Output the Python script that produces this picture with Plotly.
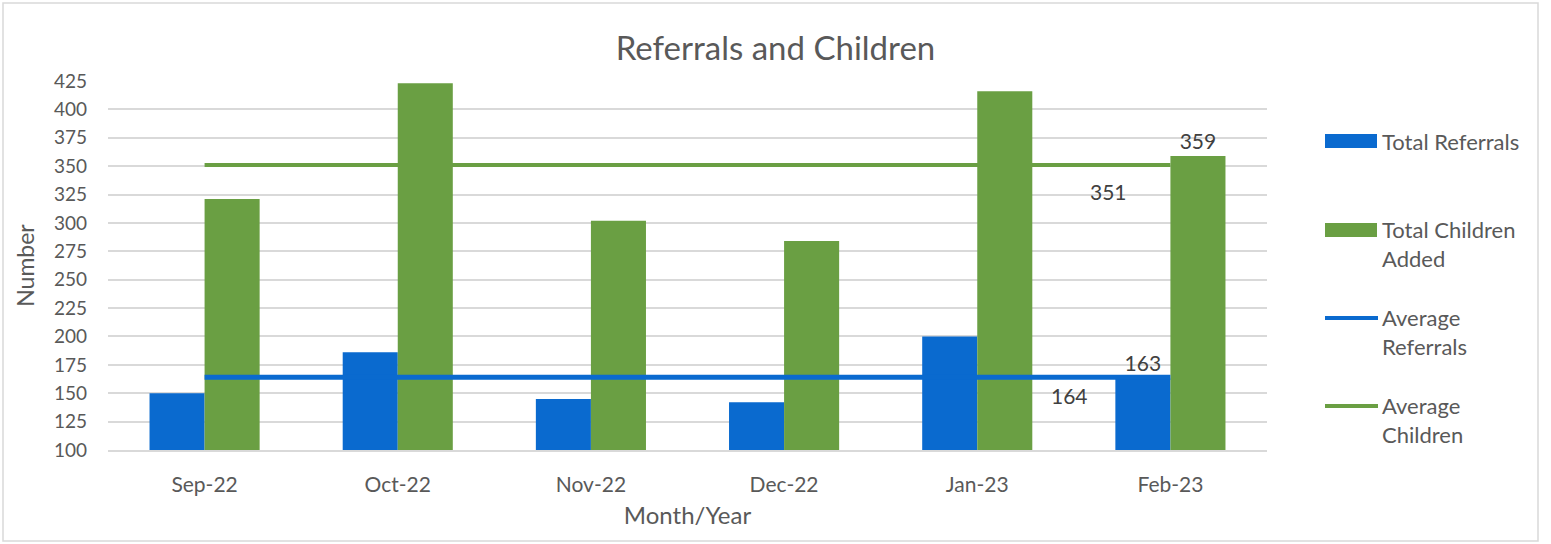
import plotly.graph_objects as go

# ---------------------------------------------------------------
# Data
# ---------------------------------------------------------------
months = ["Sep-22", "Oct-22", "Nov-22", "Dec-22", "Jan-23", "Feb-23"]
referrals = [150, 186, 145, 142, 200, 163]
children = [321, 423, 302, 284, 416, 359]
avg_referrals = [164, 164, 164, 164, 164, 164]
avg_children = [351, 351, 351, 351, 351, 351]

BLUE = "#0A6ACF"
GREEN = "#6A9F43"
TXT = "#595959"
LBL = "#404040"
GRID = "#D9D9D9"
FONT = "Lato"

W, H = 1551, 544
L, R, T, B = 108, 284, 81, 94


def px(x):
    # pixel x -> paper x
    return (x - L) / (W - L - R)


def py(y):
    # pixel y -> paper y
    return (H - B - y) / (H - T - B)


# only the last bars carry a data label
ref_text = [""] * (len(months) - 1) + [str(referrals[-1])]
chi_text = [""] * (len(months) - 1) + [str(children[-1])]

fig = go.Figure()
fig.add_trace(go.Bar(x=months, y=referrals, name="Total Referrals",
                     marker=dict(color=BLUE, line_width=0),
                     text=ref_text, textposition="outside", cliponaxis=False,
                     textfont=dict(color=LBL, size=21)))
fig.add_trace(go.Bar(x=months, y=children, name="Total Children Added",
                     marker=dict(color=GREEN, line_width=0),
                     text=chi_text, textposition="outside", cliponaxis=False,
                     textfont=dict(color=LBL, size=21)))
fig.add_trace(go.Scatter(x=months, y=avg_referrals, name="Average Referrals",
                         mode="lines", line=dict(color=BLUE, width=5)))
fig.add_trace(go.Scatter(x=months, y=avg_children, name="Average Children",
                         mode="lines", line=dict(color=GREEN, width=4)))

# labels at the end of the average lines
fig.add_annotation(x=months[-1], y=avg_children[-1], text=str(avg_children[-1]),
                   showarrow=False, xshift=-62, yshift=-26,
                   font=dict(color=LBL, size=21, family=FONT))
fig.add_annotation(x=months[-1], y=avg_referrals[-1], text=str(avg_referrals[-1]),
                   showarrow=False, xshift=-101, yshift=-18,
                   font=dict(color=LBL, size=21, family=FONT))

# hand made legend to get the wide Excel swatches
legend_items = [
    ("Total Referrals", BLUE, "bar", 141),
    ("Total Children<br>Added", GREEN, "bar", 244),
    ("Average<br>Referrals", BLUE, "line", 332),
    ("Average<br>Children", GREEN, "line", 420),
]
shapes = []
for label, col, kind, yc in legend_items:
    first_line_y = yc - 14 if "<br>" in label else yc
    if kind == "bar":
        shapes.append(dict(type="rect", xref="paper", yref="paper",
                           x0=px(1325), x1=px(1377), y0=py(first_line_y - 7),
                           y1=py(first_line_y + 7), fillcolor=col, line_width=0))
    else:
        shapes.append(dict(type="line", xref="paper", yref="paper",
                           x0=px(1325), x1=px(1378), y0=py(first_line_y),
                           y1=py(first_line_y), line=dict(color=col, width=4)))
    fig.add_annotation(xref="paper", yref="paper", x=px(1380), y=py(yc),
                       xanchor="left", yanchor="middle", align="left",
                       text=label, showarrow=False,
                       font=dict(color=TXT, size=22, family=FONT))

# chart border
shapes.append(dict(type="rect", xref="paper", yref="paper",
                   x0=px(3), x1=px(1538), y0=py(541), y1=py(3),
                   line=dict(color=GRID, width=1.5), layer="below"))

fig.update_layout(
    width=W, height=H,
    margin=dict(l=L, r=R, t=T, b=B),
    paper_bgcolor="white", plot_bgcolor="white",
    font=dict(family=FONT, color=TXT, size=19),
    title=dict(text="Referrals and Children", x=0.5, xref="container",
               y=1 - 48 / H, yref="container", xanchor="center", yanchor="middle",
               font=dict(size=33, color=TXT, family=FONT)),
    barmode="group", bargap=0.43, bargroupgap=0,
    showlegend=False,
    shapes=shapes,
)
fig.update_xaxes(title=dict(text="Month/Year", standoff=12, font=dict(size=24)),
                 showline=True, linecolor=GRID, linewidth=2,
                 ticks="", ticklabelstandoff=15, tickfont=dict(size=21))
fig.update_yaxes(title=dict(text="Number", standoff=12, font=dict(size=23)),
                 range=[100, 425], dtick=25, tick0=100,
                 showgrid=True, gridcolor=GRID, gridwidth=2,
                 zeroline=False, ticks="", ticklabelstandoff=20,
                 tickfont=dict(size=19))

# drop the default page margin so the figure sits at the window corner
fig.write_html("out.html", config={"displayModeBar": False},
               post_script="document.body.style.margin='0';")
